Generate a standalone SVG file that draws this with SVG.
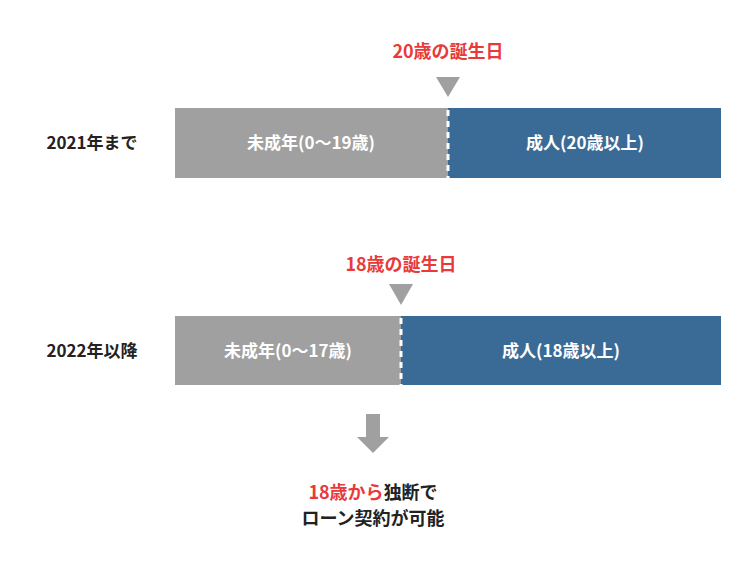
<svg xmlns="http://www.w3.org/2000/svg" width="750" height="576" viewBox="0 0 750 576">
<style>
text{font-family:"Noto Sans CJK JP","Noto Sans",sans-serif;font-weight:bold}
.lbl{font-size:17px;fill:#222}
.in{font-size:17px;fill:#fff}
.red{font-size:18px;fill:#e83a3a}
.g{fill:#a0a0a0}.b{fill:#3a6b96}
.d{stroke:#fff;stroke-width:3;stroke-dasharray:6,5}
</style>
<rect width="750" height="576" fill="#fff"/>
<g id="row1">
<text class="lbl" x="92" y="149" text-anchor="middle">2021年まで</text>
<rect class="g" x="175" y="108" width="273" height="70"/>
<rect class="b" x="448" y="108" width="273" height="70"/>
<line class="d" x1="448" y1="110" x2="448" y2="178"/>
<text class="in" x="311" y="149" text-anchor="middle">未成年(0〜19歳)</text>
<text class="in" x="585" y="149" text-anchor="middle">成人(20歳以上)</text>
<text class="red" x="448" y="58" text-anchor="middle">20歳の誕生日</text>
<polygon class="g" points="436,77 460,77 448,97"/>
</g>
<g id="row2">
<text class="lbl" x="92" y="357" text-anchor="middle">2022年以降</text>
<rect class="g" x="175" y="316" width="226" height="69"/>
<rect class="b" x="401" y="316" width="320" height="69"/>
<line class="d" x1="401" y1="318" x2="401" y2="385"/>
<text class="in" x="288" y="357" text-anchor="middle">未成年(0〜17歳)</text>
<text class="in" x="561" y="357" text-anchor="middle">成人(18歳以上)</text>
<text class="red" x="401" y="271" text-anchor="middle">18歳の誕生日</text>
<polygon class="g" points="389,284 413,284 401,305"/>
</g>
<g id="connectors">
<polygon class="g" points="366,414 380,414 380,437 389,437 373,453 357,437 366,437"/>
</g>
<g id="result">
<text x="373" y="499" text-anchor="middle" font-size="18"><tspan fill="#e83a3a">18歳から</tspan><tspan fill="#222">独断で</tspan></text>
<text class="lbl" x="373" y="525" text-anchor="middle" font-size="18" style="font-size:18px">ローン契約が可能</text>
</g>
</svg>
